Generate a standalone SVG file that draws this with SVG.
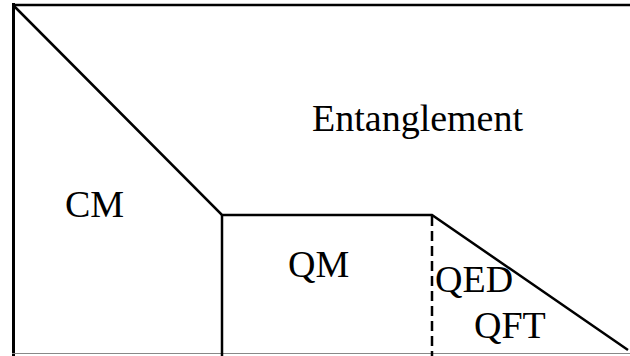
<svg xmlns="http://www.w3.org/2000/svg" width="630" height="356" viewBox="0 0 630 356">
  <style>
    .ln { stroke: #000; stroke-width: 2.5; fill: none; }
    .dash { stroke: #000; stroke-width: 2.5; fill: none; stroke-dasharray: 10 5; }
    .lbl { font-family: 'Liberation Serif', 'Times New Roman', Times, 'DejaVu Serif', serif; font-size: 38px; fill: #000; }
  </style>
  <rect width="630" height="356" fill="#fff"/>
  <g id="frame">
    <line class="ln" x1="13.5" y1="3" x2="13.5" y2="356" style="stroke-width:3"/>
    <line class="ln" x1="12" y1="5" x2="630" y2="5"/>
    <line x1="12" y1="353.5" x2="630" y2="353.5" stroke="#888" stroke-width="1"/>
  </g>
  <g id="boundaries">
    <polyline class="ln" points="13,5 222,215 432,215 628,350"/>
    <line class="ln" x1="222" y1="215" x2="222" y2="356"/>
    <line class="dash" x1="432" y1="216" x2="432" y2="356"/>
  </g>
  <g id="labels">
    <text class="lbl" x="312" y="131" font-family="Liberation Serif, serif">Entanglement</text>
    <text class="lbl" x="65" y="217">CM</text>
    <text class="lbl" x="288" y="277">QM</text>
    <text class="lbl" x="435" y="292">QED</text>
    <text class="lbl" x="474" y="338">QFT</text>
  </g>
</svg>
